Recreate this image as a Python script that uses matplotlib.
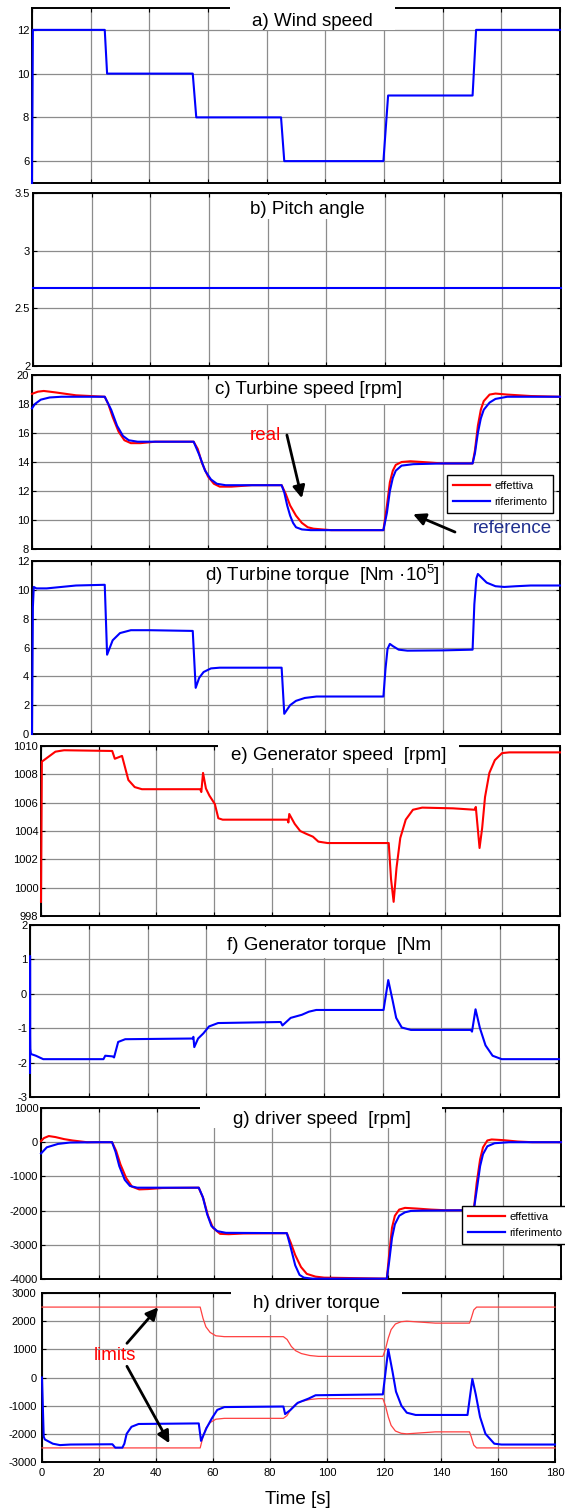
import matplotlib
matplotlib.use('Agg')
import matplotlib.pyplot as plt
from matplotlib.patches import Rectangle
from matplotlib.lines import Line2D
import numpy as np

plt.rcParams.update({
    'font.family': ['Liberation Sans', 'DejaVu Sans'],
    'font.size': 8,
    'axes.unicode_minus': False,
    'mathtext.fontset': 'custom',
    'mathtext.rm': 'Liberation Sans',
    'mathtext.default': 'regular',
})

W, H = 565, 1510
RED = '#ff0000'
BLUE = '#0000ff'

# a) wind speed
wind_t = [0, 0.3, 24.8, 25.6, 54.8, 56, 84.9, 86, 119.8, 121.4, 150.2, 151.4, 180]
wind_v = [5, 12, 12, 10, 10, 8, 8, 6, 6, 9, 9, 12, 12]

# b) pitch angle
pitch_t = [0, 180]
pitch_v = [2.674, 2.674]

# c) turbine speed
tspeed_ref_t = [0, 1, 3, 6, 10, 24.8, 27, 29, 31, 33, 36, 55.1, 57, 59, 61, 63, 66,
                85.1, 86, 87, 88, 89, 90, 92, 95, 119.8, 121, 122, 123, 124, 126, 130, 140,
                150.2, 151, 152, 153, 154, 156, 158, 162, 180]
tspeed_ref_v = [17.7, 18.0, 18.3, 18.45, 18.5, 18.5, 17.6, 16.5, 15.8, 15.5, 15.4, 15.4, 14.5, 13.4, 12.8, 12.5, 12.4,
                12.4, 11.9, 11.0, 10.3, 9.8, 9.5, 9.35, 9.3, 9.3, 10.5, 12.0, 12.9, 13.4, 13.75, 13.85, 13.9,
                13.9, 14.6, 16.0, 17.0, 17.6, 18.1, 18.35, 18.5, 18.5]
tspeed_real_t = [0, 2, 4, 8, 15, 24.8, 26, 27.5, 29.5, 31.5, 33.7, 37, 42, 55.1, 56.5, 58, 60, 62, 64, 68, 75,
                 85.1, 86.5, 88, 90, 92, 94, 96, 99, 102, 119.8, 121, 122, 123, 124, 126, 129, 133, 140,
                 150.2, 151, 152, 153, 154, 156, 158, 162, 170, 180]
tspeed_real_v = [18.7, 18.85, 18.9, 18.8, 18.6, 18.5, 18.0, 17.1, 16.1, 15.5, 15.3, 15.3, 15.4, 15.4, 14.9, 13.9, 13.0, 12.5, 12.3, 12.3, 12.4,
                 12.4, 11.8, 11.0, 10.3, 9.8, 9.5, 9.4, 9.35, 9.3, 9.3, 11.0, 12.6, 13.4, 13.8, 14.0, 14.05, 14.0, 13.9,
                 13.9, 14.8, 16.5, 17.6, 18.2, 18.65, 18.72, 18.65, 18.55, 18.5]

# d) turbine torque (x 1e5)
ttorque_t = [0, 0.3, 0.6, 1.5, 5, 10, 15, 24.8, 25.6, 27.5, 30, 33.7, 40, 54.8, 55.8, 57, 58.5, 61, 64,
             85.1, 86, 88, 90, 93, 97, 119.8, 120.5, 121.2, 122, 123, 125, 128, 140, 150.2,
             150.8, 151.5, 152, 153, 155, 158, 161, 165, 170, 180]
ttorque_v = [0, 8.8, 10.2, 10.1, 10.1, 10.2, 10.3, 10.35, 5.5, 6.5, 7.0, 7.2, 7.2, 7.15, 3.2, 3.9, 4.3, 4.55, 4.6,
             4.6, 1.4, 2.0, 2.3, 2.5, 2.6, 2.6, 4.5, 5.9, 6.25, 6.1, 5.85, 5.78, 5.8, 5.85,
             9.0, 10.8, 11.1, 10.9, 10.5, 10.25, 10.2, 10.25, 10.3, 10.3]

# e) generator speed
gspeed_t = [0, 0.3, 1, 3, 5, 8, 24.7, 25.6, 28.1, 30.3, 32.5, 35, 55.2, 55.6, 56.2, 57.2, 58.4, 60.3, 61.5, 63,
            85.5, 85.8, 86.1, 88, 89.9, 92, 94.3, 96.2, 99.4, 120.6, 121.4, 122.3, 123.3, 124.6, 126.5, 129,
            132.2, 142.9, 150.4, 150.8, 152.1, 153, 154, 155.5, 157.4, 159.9, 162.4, 180]
gspeed_v = [999, 1008.9, 1009.0, 1009.3, 1009.6, 1009.7, 1009.65, 1009.1, 1009.3, 1007.6, 1007.1, 1006.95, 1006.95, 1006.75, 1008.1, 1007.0, 1006.5, 1005.9, 1004.9, 1004.8,
            1004.8, 1004.6, 1005.2, 1004.5, 1004.0, 1003.8, 1003.6, 1003.25, 1003.15, 1003.15, 1000.6, 999.0, 1001.4, 1003.5, 1004.8, 1005.5,
            1005.65, 1005.6, 1005.5, 1005.7, 1002.8, 1004.2, 1006.4, 1008.1, 1009.0, 1009.5, 1009.55, 1009.55]

# f) generator torque
gtorque_t = [0, 0.02, 0.05, 0.1, 0.3, 2, 4.5, 25, 25.6, 28.1, 28.6, 30, 32.4, 55.3, 55.6, 55.9, 57.2, 59, 60.9, 64,
             85.3, 85.9, 88.7, 92.5, 94.9, 97.4, 120.3, 121.9, 123.4, 124.6, 126.5, 129.6, 150.0, 150.4,
             151.6, 153.1, 155, 157.4, 160.5, 180]
gtorque_v = [-2.3, 1.1, -1.2, -1.6, -1.75, -1.8, -1.9, -1.9, -1.8, -1.82, -1.85, -1.4, -1.32, -1.3, -1.25, -1.55, -1.3, -1.15, -0.95, -0.85,
             -0.82, -0.92, -0.7, -0.61, -0.52, -0.47, -0.47, 0.4, -0.2, -0.7, -0.98, -1.05, -1.05, -1.1,
             -0.45, -1.0, -1.5, -1.8, -1.9, -1.9]

# g) driver speed
dspeed_ref_t = [0, 2, 5.9, 10, 20, 24.6, 25.8, 27.1, 29, 30.8, 33.3, 54.6, 56, 57.5, 59, 61, 64,
                85.1, 86.5, 88, 89.5, 91, 94, 119.7, 120.5, 121.5, 122.5, 124, 126, 128, 132,
                149.8, 151, 152, 153, 154.5, 157, 162, 180]
dspeed_ref_v = [-330, -150, -50, -10, 0, 0, -280, -700, -1100, -1280, -1330, -1330, -1600, -2100, -2450, -2600, -2650,
                -2660, -3100, -3600, -3880, -3960, -3990, -3990, -3500, -2800, -2400, -2150, -2050, -2010, -2000,
                -1990, -1300, -700, -350, -120, -30, 0, 0]
dspeed_real_t = [0, 1, 2.7, 5, 8, 10.9, 15.9, 24.6, 26, 27.5, 29.5, 31.5, 34, 37, 42, 54.6, 56.2, 57.8, 59.5, 62, 65, 70,
                 85.1, 86.5, 88, 90, 92, 95, 98, 119.7, 120.5, 121.5, 122.5, 124, 126, 130, 135, 140,
                 149.8, 150.8, 152, 153, 154.5, 156, 160, 165, 170, 180]
dspeed_real_v = [30, 120, 180, 150, 90, 50, 0, 0, -250, -650, -1050, -1300, -1380, -1370, -1340, -1330, -1650, -2150, -2500, -2680, -2690, -2670,
                 -2660, -2950, -3300, -3650, -3850, -3930, -3960, -3990, -3300, -2500, -2150, -1970, -1920, -1940, -1970, -1990,
                 -1990, -1200, -500, -150, 50, 80, 60, 20, 0, 0]

# h) driver torque and its limits
limit_t = [0, 55.5, 56.5, 57.5, 59, 61, 64, 84.7, 86, 87.5, 89, 91, 94, 97, 119.6, 120.5, 121.5, 122.5,
           124, 126, 128, 138, 150, 150.6, 151.5, 152.5, 180]
limit_v = [2500, 2500, 2100, 1800, 1600, 1480, 1450, 1450, 1350, 1100, 950, 850, 780, 750, 750, 1000, 1400, 1700,
           1900, 1980, 2000, 1930, 1930, 2100, 2400, 2500, 2500]
dtorque_t = [0, 0.6, 1, 3.8, 6.3, 10, 24.7, 25.7, 28.2, 28.9, 29.7, 31.4, 33.9, 55, 55.8, 57.7, 59.6, 61.5, 64,
             84.7, 85.3, 87.2, 89.7, 93.5, 96, 119.6, 121.5, 123, 124.2, 126.1, 128, 131.1,
             149.3, 151, 152.2, 153.7, 155.6, 158.7, 161.2, 180]
dtorque_v = [0, -2100, -2200, -2350, -2400, -2380, -2370, -2490, -2490, -2350, -2000, -1750, -1650, -1630, -2250, -1800, -1450, -1150, -1050,
             -1030, -1300, -1150, -900, -750, -630, -600, 1000, 200, -500, -1000, -1250, -1330,
             -1330, -50, -600, -1400, -2000, -2350, -2380, -2380]

XTICKS = np.arange(0, 181, 20)

fig = plt.figure(figsize=(W / 100, H / 100), dpi=100)


def add_panel(box, ylim, yticks, yticklabels=None):
    l, r, t, b = box
    ax = fig.add_axes([l / W, 1 - b / H, (r - l) / W, (b - t) / H])
    ax.set_xlim(0, 180)
    ax.set_ylim(*ylim)
    ax.set_xticks(XTICKS)
    ax.set_yticks(yticks)
    if yticklabels is not None:
        ax.set_yticklabels(yticklabels)
    ax.grid(True, color='#8c8c8c', lw=0.9)
    ax.set_axisbelow(True)
    ax.tick_params(direction='in', top=True, right=True, length=3, labelsize=8, pad=2,
                   labelbottom=False)
    for s in ax.spines.values():
        s.set_linewidth(1.4)
    return ax


def curve(ax, t, v, color, lw=1.5):
    ax.plot(t, v, color=color, lw=lw, zorder=3, clip_on=False)


def panel_title(text, cx, cy, box):
    x0, x1, y0, y1 = box
    fig.patches.append(Rectangle((x0 / W, 1 - y1 / H), (x1 - x0) / W, (y1 - y0) / H,
                                 transform=fig.transFigure, facecolor='white',
                                 edgecolor='none', zorder=1))
    fig.text(cx / W, 1 - cy / H, text, fontsize=13.5, ha='center', va='center', zorder=3)


def add_legend(ax, x, y):
    handles = [Line2D([], [], color=RED, lw=1.6), Line2D([], [], color=BLUE, lw=1.6)]
    leg = ax.legend(handles, ['effettiva', 'riferimento'], loc='upper left',
                    bbox_to_anchor=(x / W, 1 - y / H), bbox_transform=fig.transFigure,
                    fancybox=False, edgecolor='black', framealpha=1, fontsize=8,
                    borderpad=0.55, handlelength=3.3, handletextpad=0.4, labelspacing=0.55,
                    borderaxespad=0)
    leg.get_frame().set_linewidth(1.0)
    leg.set_zorder(5)
    return leg


arrow = dict(arrowstyle='-|>', color='black', lw=2, mutation_scale=18, shrinkA=0, shrinkB=0)

# a) Wind speed
ax = add_panel((32, 560, 8, 183), (5, 13), [6, 8, 10, 12])
curve(ax, wind_t, wind_v, BLUE)
panel_title('a) Wind speed', 312, 21, (230, 395, 0, 30))

# b) Pitch angle
ax = add_panel((33, 561, 193, 366), (2, 3.5), [2, 2.5, 3, 3.5], ['2', '2.5', '3', '3.5'])
curve(ax, pitch_t, pitch_v, BLUE)
panel_title('b) Pitch angle', 307, 209, (245, 370, 195, 219))

# c) Turbine speed
ax = add_panel((32, 560, 375, 549), (8, 20), np.arange(8, 21, 2))
curve(ax, tspeed_real_t, tspeed_real_v, RED)
curve(ax, tspeed_ref_t, tspeed_ref_v, BLUE)
panel_title('c) Turbine speed [rpm]', 309, 390, (210, 410, 376, 404))
add_legend(ax, 447, 475)
ax.text(79.4, 15.86, 'real', color=RED, fontsize=13.5, ha='center', va='center')
ax.annotate('', xy=(92, 11.5), xytext=(86.9, 15.86), arrowprops=arrow)
ax.text(163.6, 9.38, 'reference', color='#1f2f8f', fontsize=13.5, ha='center', va='center')
ax.annotate('', xy=(129.9, 10.4), xytext=(144.2, 9.17), arrowprops=arrow)

# d) Turbine torque
ax = add_panel((32, 560, 561, 734), (0, 12), np.arange(0, 13, 2))
curve(ax, ttorque_t, ttorque_v, BLUE)
panel_title(r'd) Turbine torque  [Nm ·10$^{5}$]', 322, 575, (200, 442, 562, 580))

# e) Generator speed
ax = add_panel((41, 560, 746, 916), (998, 1010), np.arange(998, 1011, 2))
curve(ax, gspeed_t, gspeed_v, RED)
panel_title('e) Generator speed  [rpm]', 339, 756, (218, 459, 735, 768))

# f) Generator torque
ax = add_panel((30, 559, 925, 1097), (-3, 2), np.arange(-3, 3, 1))
curve(ax, gtorque_t, gtorque_v, BLUE)
panel_title('f) Generator torque  [Nm', 329, 945, (215, 440, 927, 958))

# g) Driver speed
ax = add_panel((41, 561, 1108, 1279), (-4000, 1000), np.arange(-4000, 1001, 1000))
curve(ax, dspeed_real_t, dspeed_real_v, RED)
curve(ax, dspeed_ref_t, dspeed_ref_v, BLUE)
panel_title('g) driver speed  [rpm]', 322, 1120, (200, 442, 1105, 1128))
add_legend(ax, 462, 1206)

# h) Driver torque
ax = add_panel((42, 555, 1293, 1462), (-3000, 3000), np.arange(-3000, 3001, 1000))
curve(ax, limit_t, limit_v, '#ff4040', lw=0.9)
curve(ax, limit_t, [-v for v in limit_v], '#ff4040', lw=0.9)
curve(ax, dtorque_t, dtorque_v, BLUE)
ax.tick_params(labelbottom=True, pad=4)
panel_title('h) driver torque', 316, 1304, (231, 402, 1292, 1315))
ax.text(25.6, 789, 'limits', color=RED, fontsize=13.5, ha='center', va='center')
ax.annotate('', xy=(40.8, 2492), xytext=(29.8, 1214), arrowprops=arrow)
ax.annotate('', xy=(44.7, -2336), xytext=(29.8, 398), arrowprops=arrow)

fig.text(298 / W, 1 - 1500 / H, 'Time [s]', fontsize=13.5, ha='center', va='center')

fig.savefig('out.png', dpi=100)
